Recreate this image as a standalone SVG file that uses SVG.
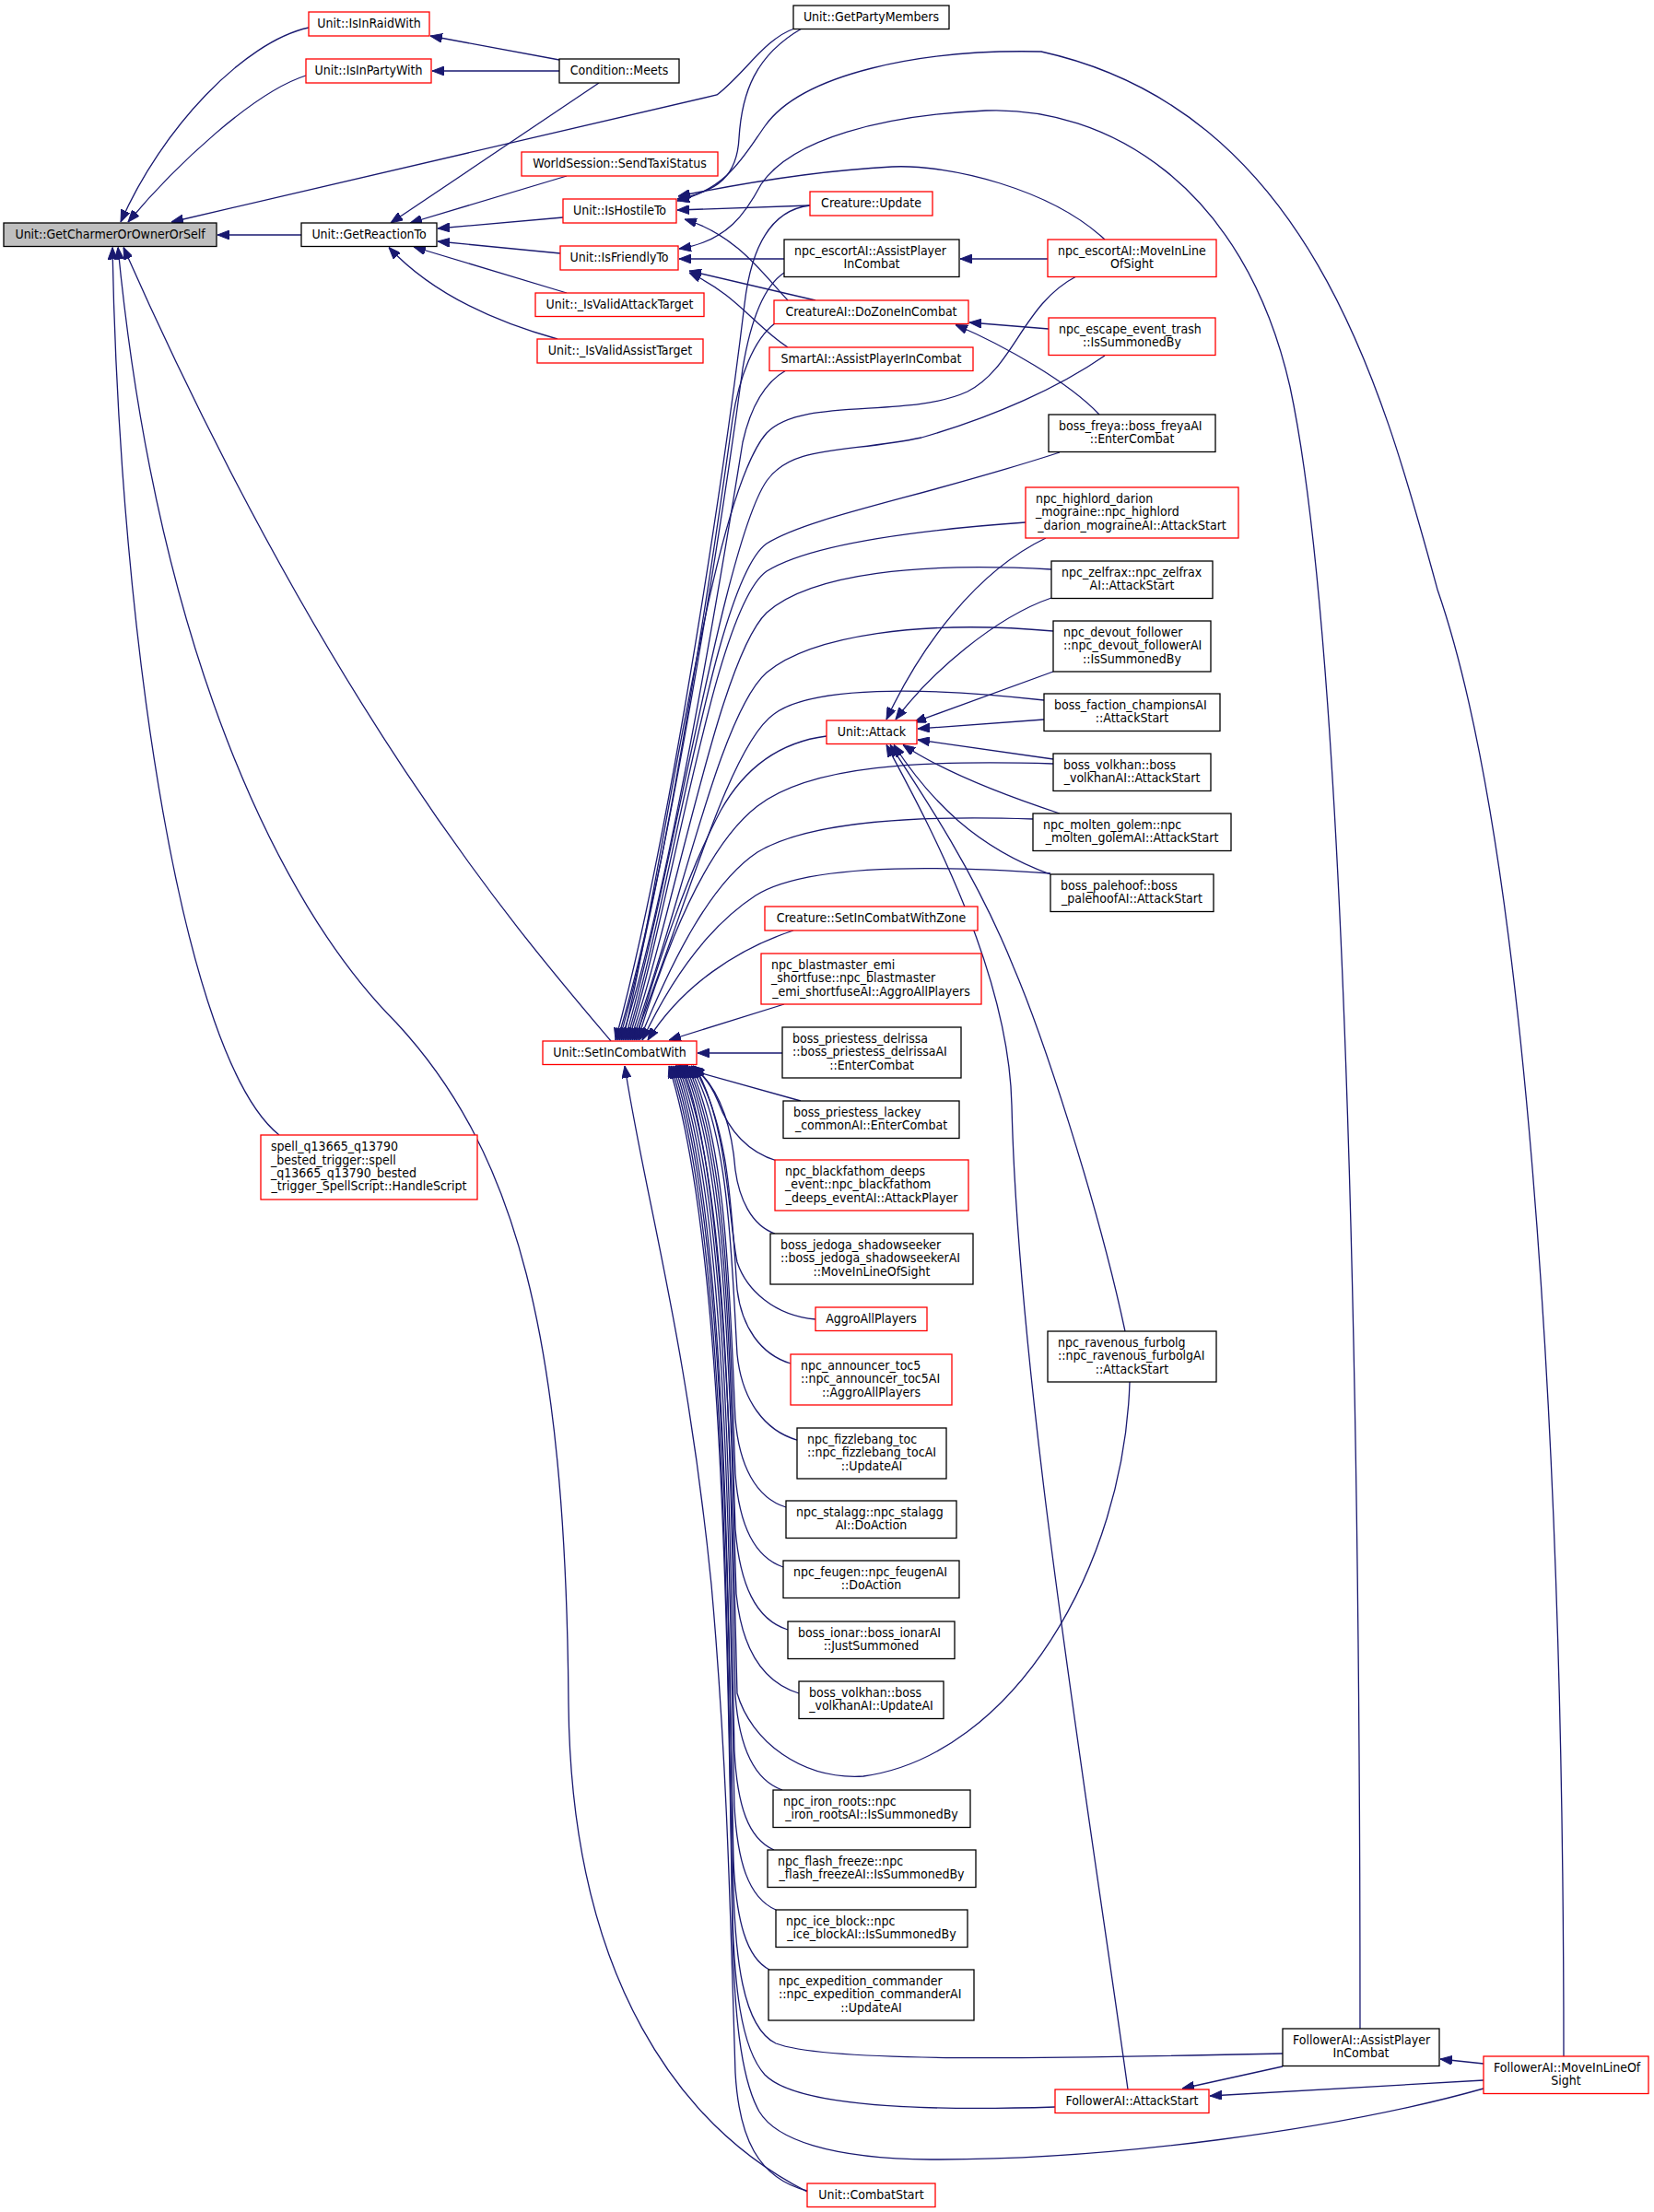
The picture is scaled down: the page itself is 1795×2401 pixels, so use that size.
<svg xmlns="http://www.w3.org/2000/svg" width="1795" height="2401" viewBox="0 0 1795 2401">
<defs>
<marker id="ah" markerWidth="13" markerHeight="10" refX="13" refY="5" orient="auto" markerUnits="userSpaceOnUse"><path d="M0,0 L13,5 L0,10 z" fill="#191970" stroke="#191970" stroke-width="1"/></marker>
<style>
.n rect{fill:#ffffff;stroke:#000000;stroke-width:1.3}
.r rect{stroke:#ff0000}
.g rect{fill:#bfbfbf}
text{font-family:'DejaVu Sans Condensed','DejaVu Sans',sans-serif;font-stretch:condensed;font-size:14px;fill:#000000}
.c{text-anchor:middle}
#edges path{fill:none;stroke:#191970;stroke-width:1.3;marker-end:url(#ah)}
</style>
</defs>
<rect x="0" y="0" width="1795" height="2401" fill="#ffffff"/>
<g id="edges">
<path d="M335,30 C265,45 175,140 131,241"/>
<path d="M332,82 C275,100 190,180 139,241"/>
<path d="M862,31 C830,42 808,80 778,103 L186,241"/>
<path d="M327,255 L236,255"/>
<path d="M663,1130 C570,1020 360,780 134,268.5"/>
<path d="M303,1232 C200,1150 130,700 122,268.5"/>
<path d="M876,2379 C740,2310 620,2150 617,1850 C614,1450 560,1250 430,1110 C300,980 170,700 128,268.5"/>
<path d="M607,65 L467,39"/>
<path d="M607,77 L469,77"/>
<path d="M650,90 L424,242"/>
<path d="M615,191 L445,242"/>
<path d="M611,236 L475,248"/>
<path d="M608,275 L475,262"/>
<path d="M615,318 L449,268"/>
<path d="M605,368 C540,350 470,320 422,268.5"/>
<path d="M870,31 C820,60 805,100 802,150 C800,190 780,208 735,216"/>
<path d="M1697,2232 C1697,1500 1650,900 1560,640 C1500,420 1420,120 1130,56 C1000,53 870,80 830,137 C808,168 790,205 735,218"/>
<path d="M1476,2202 C1476,1500 1460,700 1400,420 C1350,200 1200,115 1070,120 C960,125 860,150 826,200 C810,230 790,262 737,270"/>
<path d="M1199,260 C1140,205 1030,178 968,181 C890,185 800,200 736,213"/>
<path d="M879,223 L735,228"/>
<path d="M855,326 C830,300 800,255 743,238"/>
<path d="M885,326 L748,294"/>
<path d="M855,377 C820,355 800,320 748,296"/>
<path d="M851,281 L737,281"/>
<path d="M1137,281 L1042,281"/>
<path d="M1138,357 L1052,350"/>
<path d="M1193,450 C1160,415 1090,375 1037,352.5"/>
<path d="M1135,584 C1060,620 1000,700 962,781"/>
<path d="M1141,649 C1080,670 1010,730 972,781"/>
<path d="M1143,729 L992,784"/>
<path d="M1133,781 L996,791"/>
<path d="M1143,824 L996,803"/>
<path d="M1150,883 C1080,860 1020,835 980,808.5"/>
<path d="M1140,949 C1060,920 1010,870 970,808.5"/>
<path d="M1221,1445 C1190,1300 1130,1120 1100,1050 C1060,950 1000,860 966,808.5"/>
<path d="M1224,2268 C1180,1950 1105,1500 1098,1200 C1095,1050 1000,880 962,808.5"/>
<path d="M1392,2243 L1283,2267"/>
<path d="M1610,2240 L1563,2235"/>
<path d="M1610,2258 L1313,2275"/>
<path d="M879,223 C835,228 815,270 808,330 C790,480 730,900 668,1129"/>
<path d="M851,296 C830,310 815,345 806,400 C786,550 725,950 670,1129"/>
<path d="M841,351 C818,368 802,410 795,455 C775,600 722,960 672,1129"/>
<path d="M853,402 C830,415 815,440 806,480 C782,630 722,990 674,1129"/>
<path d="M1168,300 C1110,330 1100,400 1050,425 C985,455 870,430 832,470 C770,540 722,940 676,1129"/>
<path d="M1199,386 C1150,420 1080,452 1000,475 C920,492 860,482 832,522 C785,590 728,960 678,1129"/>
<path d="M1150,491 C1000,540 880,560 832,590 C775,630 730,970 680,1129"/>
<path d="M1113,567 C1000,575 880,590 832,620 C775,660 730,980 682,1129"/>
<path d="M1141,618 C1000,610 880,622 832,665 C780,715 732,990 684,1129"/>
<path d="M1143,685 C1000,672 880,690 832,730 C780,775 735,1000 686,1129"/>
<path d="M1133,760 C1000,745 880,745 840,775 C790,810 740,1000 688,1129"/>
<path d="M897,799 C850,805 810,830 782,880 C745,950 712,1050 690,1129"/>
<path d="M1143,829 C1000,825 880,830 822,875 C770,915 728,1010 692,1129"/>
<path d="M1121,889 C1000,885 880,890 822,925 C772,958 730,1040 694,1129"/>
<path d="M1140,948 C1000,938 870,940 820,972 C765,1008 725,1070 697,1129"/>
<path d="M861,1010 C800,1030 740,1070 703,1129"/>
<path d="M851,1090 L726,1129"/>
<path d="M849,1143 L757,1143"/>
<path d="M869,1195 L733,1157"/>
<path d="M843,1260 C810,1250 790,1225 779,1195 C772,1178 762,1165 750,1157"/>
<path d="M841,1339 C815,1330 802,1300 798,1270 C794,1220 780,1180 752,1157"/>
<path d="M885,1432 C840,1428 810,1400 800,1370 C790,1320 790,1220 754,1157"/>
<path d="M858,1480 C825,1470 805,1440 800,1400 C794,1320 792,1220 752,1157"/>
<path d="M865,1563 C830,1553 805,1520 800,1470 C794,1370 792,1230 750,1157"/>
<path d="M853,1636 C820,1626 802,1590 798,1540 C792,1420 790,1240 748,1157"/>
<path d="M850,1701 C818,1690 802,1655 798,1600 C792,1450 790,1250 746,1157"/>
<path d="M855,1769 C820,1758 803,1720 798,1660 C792,1480 790,1260 744,1157"/>
<path d="M867,1838 C828,1826 805,1790 799,1730 C792,1520 790,1270 742,1157"/>
<path d="M1226,1500 C1220,1700 1100,1905 937,1928 C870,1932 815,1890 800,1838 C796,1700 792,1280 740,1157"/>
<path d="M849,1943 C818,1932 802,1895 798,1840 C792,1560 790,1280 738,1157"/>
<path d="M840,2008 C812,1996 800,1960 797,1900 C791,1600 789,1290 736,1157"/>
<path d="M842,2073 C812,2060 800,2020 797,1960 C790,1640 788,1300 734,1157"/>
<path d="M835,2138 C810,2125 799,2085 796,2020 C789,1680 787,1310 732,1157"/>
<path d="M1392,2229 C1150,2234 900,2240 842,2218 C805,2200 798,2120 796,2050 C790,1700 786,1320 730,1157"/>
<path d="M1145,2287 C990,2292 862,2285 830,2252 C803,2222 797,2150 795,2080 C789,1720 785,1330 728,1157"/>
<path d="M1610,2267 C1450,2312 1200,2345 1010,2344 C900,2343 842,2322 824,2292 C803,2255 797,2180 795,2100 C789,1740 784,1340 726,1157"/>
<path d="M876,2378 C822,2364 802,2320 798,2250 C792,2050 788,1900 772,1720 C745,1450 700,1300 678,1157"/>
</g>
<g id="n_root" class="n g"><rect x="4" y="242" width="231" height="25.5"/><text class="c" x="119.5" y="258.5">Unit::GetCharmerOrOwnerOrSelf</text></g>
<g id="n_raid" class="n r"><rect x="335" y="13" width="131" height="26"/><text class="c" x="400.5" y="29.8">Unit::IsInRaidWith</text></g>
<g id="n_party" class="n r"><rect x="332" y="64" width="136" height="26"/><text class="c" x="400" y="80.8">Unit::IsInPartyWith</text></g>
<g id="n_meets" class="n"><rect x="607" y="64" width="130" height="26"/><text class="c" x="672" y="80.8">Condition::Meets</text></g>
<g id="n_partymembers" class="n"><rect x="861" y="6" width="169" height="25.5"/><text class="c" x="945.5" y="22.5">Unit::GetPartyMembers</text></g>
<g id="n_reaction" class="n"><rect x="327" y="242" width="147" height="25.5"/><text class="c" x="400.5" y="258.5">Unit::GetReactionTo</text></g>
<g id="n_taxi" class="n r"><rect x="566" y="165" width="213" height="26"/><text class="c" x="672.5" y="181.8">WorldSession::SendTaxiStatus</text></g>
<g id="n_hostile" class="n r"><rect x="611" y="216" width="123" height="26"/><text class="c" x="672.5" y="232.8">Unit::IsHostileTo</text></g>
<g id="n_friendly" class="n r"><rect x="608" y="267" width="128" height="26"/><text class="c" x="672" y="283.8">Unit::IsFriendlyTo</text></g>
<g id="n_validattack" class="n r"><rect x="581" y="318" width="183" height="25.5"/><text class="c" x="672.5" y="334.5">Unit::_IsValidAttackTarget</text></g>
<g id="n_validassist" class="n r"><rect x="583" y="368" width="180" height="26"/><text class="c" x="673" y="384.8">Unit::_IsValidAssistTarget</text></g>
<g id="n_creatureupdate" class="n r"><rect x="879" y="208" width="133" height="26"/><text class="c" x="945.5" y="224.8">Creature::Update</text></g>
<g id="n_escortassist" class="n"><rect x="851" y="260" width="190" height="40.5"/><text x="862" y="276.9">npc_escortAI::AssistPlayer</text><text class="c" x="946" y="291.3">InCombat</text></g>
<g id="n_escortmove" class="n r"><rect x="1137" y="260" width="183" height="40.5"/><text x="1148" y="276.9">npc_escortAI::MoveInLine</text><text class="c" x="1228.5" y="291.3">OfSight</text></g>
<g id="n_dozone" class="n r"><rect x="840" y="326" width="211" height="25.5"/><text class="c" x="945.5" y="342.5">CreatureAI::DoZoneInCombat</text></g>
<g id="n_escape" class="n r"><rect x="1138" y="345" width="181" height="40.5"/><text x="1149" y="361.9">npc_escape_event_trash</text><text class="c" x="1228.5" y="376.3">::IsSummonedBy</text></g>
<g id="n_smartai" class="n r"><rect x="835" y="377" width="221" height="25.5"/><text class="c" x="945.5" y="393.5">SmartAI::AssistPlayerInCombat</text></g>
<g id="n_freya" class="n"><rect x="1138" y="450" width="181" height="40.5"/><text x="1149" y="466.9">boss_freya::boss_freyaAI</text><text class="c" x="1228.5" y="481.3">::EnterCombat</text></g>
<g id="n_highlord" class="n r"><rect x="1113" y="529" width="231" height="55"/><text x="1124" y="545.9">npc_highlord_darion</text><text x="1124" y="560.3">_mograine::npc_highlord</text><text class="c" x="1228.5" y="574.7">_darion_mograineAI::AttackStart</text></g>
<g id="n_zelfrax" class="n"><rect x="1141" y="609" width="175" height="40.5"/><text x="1152" y="625.9">npc_zelfrax::npc_zelfrax</text><text class="c" x="1228.5" y="640.3">AI::AttackStart</text></g>
<g id="n_devout" class="n"><rect x="1143" y="674" width="171" height="55"/><text x="1154" y="690.9">npc_devout_follower</text><text x="1154" y="705.3">::npc_devout_followerAI</text><text class="c" x="1228.5" y="719.7">::IsSummonedBy</text></g>
<g id="n_faction" class="n"><rect x="1133" y="753" width="191" height="40.5"/><text x="1144" y="769.9">boss_faction_championsAI</text><text class="c" x="1228.5" y="784.3">::AttackStart</text></g>
<g id="n_attack" class="n r"><rect x="897" y="782" width="98" height="25.5"/><text class="c" x="946" y="798.5">Unit::Attack</text></g>
<g id="n_volkhanas" class="n"><rect x="1143" y="818" width="171" height="40.5"/><text x="1154" y="834.9">boss_volkhan::boss</text><text class="c" x="1228.5" y="849.3">_volkhanAI::AttackStart</text></g>
<g id="n_molten" class="n"><rect x="1121" y="883" width="215" height="40.5"/><text x="1132" y="899.9">npc_molten_golem::npc</text><text class="c" x="1228.5" y="914.3">_molten_golemAI::AttackStart</text></g>
<g id="n_palehoof" class="n"><rect x="1140" y="949" width="177" height="40.5"/><text x="1151" y="965.9">boss_palehoof::boss</text><text class="c" x="1228.5" y="980.3">_palehoofAI::AttackStart</text></g>
<g id="n_combatzone" class="n r"><rect x="830" y="984" width="231" height="26"/><text class="c" x="945.5" y="1000.8">Creature::SetInCombatWithZone</text></g>
<g id="n_blastmaster" class="n r"><rect x="826" y="1035" width="239" height="55"/><text x="837" y="1051.9">npc_blastmaster_emi</text><text x="837" y="1066.3">_shortfuse::npc_blastmaster</text><text class="c" x="945.5" y="1080.7">_emi_shortfuseAI::AggroAllPlayers</text></g>
<g id="n_setincombat" class="n r"><rect x="589" y="1130" width="167" height="25.5"/><text class="c" x="672.5" y="1146.5">Unit::SetInCombatWith</text></g>
<g id="n_spell" class="n r"><rect x="283" y="1232" width="235" height="70"/><text x="294" y="1249.2">spell_q13665_q13790</text><text x="294" y="1263.6">_bested_trigger::spell</text><text x="294" y="1278">_q13665_q13790_bested</text><text class="c" x="400.5" y="1292.4">_trigger_SpellScript::HandleScript</text></g>
<g id="n_delrissa" class="n"><rect x="849" y="1115" width="194" height="55"/><text x="860" y="1131.9">boss_priestess_delrissa</text><text x="860" y="1146.3">::boss_priestess_delrissaAI</text><text class="c" x="946" y="1160.7">::EnterCombat</text></g>
<g id="n_lackey" class="n"><rect x="850" y="1195" width="191" height="40.5"/><text x="861" y="1211.9">boss_priestess_lackey</text><text class="c" x="945.5" y="1226.3">_commonAI::EnterCombat</text></g>
<g id="n_blackfathom" class="n r"><rect x="841" y="1259" width="210" height="55"/><text x="852" y="1275.9">npc_blackfathom_deeps</text><text x="852" y="1290.3">_event::npc_blackfathom</text><text class="c" x="946" y="1304.7">_deeps_eventAI::AttackPlayer</text></g>
<g id="n_jedoga" class="n"><rect x="836" y="1339" width="220" height="55"/><text x="847" y="1355.9">boss_jedoga_shadowseeker</text><text x="847" y="1370.3">::boss_jedoga_shadowseekerAI</text><text class="c" x="946" y="1384.7">::MoveInLineOfSight</text></g>
<g id="n_aggro" class="n r"><rect x="885" y="1419" width="121" height="25.5"/><text class="c" x="945.5" y="1435.5">AggroAllPlayers</text></g>
<g id="n_announcer" class="n r"><rect x="858" y="1470" width="175" height="55"/><text x="869" y="1486.9">npc_announcer_toc5</text><text x="869" y="1501.3">::npc_announcer_toc5AI</text><text class="c" x="945.5" y="1515.7">::AggroAllPlayers</text></g>
<g id="n_fizzlebang" class="n"><rect x="865" y="1550" width="162" height="55"/><text x="876" y="1566.9">npc_fizzlebang_toc</text><text x="876" y="1581.3">::npc_fizzlebang_tocAI</text><text class="c" x="946" y="1595.7">::UpdateAI</text></g>
<g id="n_stalagg" class="n"><rect x="853" y="1629" width="185" height="40.5"/><text x="864" y="1645.9">npc_stalagg::npc_stalagg</text><text class="c" x="945.5" y="1660.3">AI::DoAction</text></g>
<g id="n_feugen" class="n"><rect x="850" y="1694" width="191" height="40.5"/><text x="861" y="1710.9">npc_feugen::npc_feugenAI</text><text class="c" x="945.5" y="1725.3">::DoAction</text></g>
<g id="n_ionar" class="n"><rect x="855" y="1760" width="181" height="40.5"/><text x="866" y="1776.9">boss_ionar::boss_ionarAI</text><text class="c" x="945.5" y="1791.3">::JustSummoned</text></g>
<g id="n_volkhanua" class="n"><rect x="867" y="1825" width="157" height="40.5"/><text x="878" y="1841.9">boss_volkhan::boss</text><text class="c" x="945.5" y="1856.3">_volkhanAI::UpdateAI</text></g>
<g id="n_furbolg" class="n"><rect x="1137" y="1445" width="183" height="55"/><text x="1148" y="1461.9">npc_ravenous_furbolg</text><text x="1148" y="1476.3">::npc_ravenous_furbolgAI</text><text class="c" x="1228.5" y="1490.7">::AttackStart</text></g>
<g id="n_ironroots" class="n"><rect x="839" y="1943" width="214" height="40.5"/><text x="850" y="1959.9">npc_iron_roots::npc</text><text class="c" x="946" y="1974.3">_iron_rootsAI::IsSummonedBy</text></g>
<g id="n_flashfreeze" class="n"><rect x="833" y="2008" width="226" height="40.5"/><text x="844" y="2024.9">npc_flash_freeze::npc</text><text class="c" x="946" y="2039.3">_flash_freezeAI::IsSummonedBy</text></g>
<g id="n_iceblock" class="n"><rect x="842" y="2073" width="208" height="40.5"/><text x="853" y="2089.9">npc_ice_block::npc</text><text class="c" x="946" y="2104.3">_ice_blockAI::IsSummonedBy</text></g>
<g id="n_expedition" class="n"><rect x="834" y="2138" width="223" height="55"/><text x="845" y="2154.9">npc_expedition_commander</text><text x="845" y="2169.3">::npc_expedition_commanderAI</text><text class="c" x="945.5" y="2183.7">::UpdateAI</text></g>
<g id="n_followerassist" class="n"><rect x="1392" y="2202" width="170" height="40.5"/><text x="1403" y="2218.9">FollowerAI::AssistPlayer</text><text class="c" x="1477" y="2233.3">InCombat</text></g>
<g id="n_followermove" class="n r"><rect x="1610" y="2232" width="179" height="40.5"/><text x="1621" y="2248.9">FollowerAI::MoveInLineOf</text><text class="c" x="1699.5" y="2263.3">Sight</text></g>
<g id="n_followerattack" class="n r"><rect x="1145" y="2268" width="167" height="25.5"/><text class="c" x="1228.5" y="2284.5">FollowerAI::AttackStart</text></g>
<g id="n_combatstart" class="n r"><rect x="876" y="2370" width="139" height="25.5"/><text class="c" x="945.5" y="2386.5">Unit::CombatStart</text></g>
</svg>
